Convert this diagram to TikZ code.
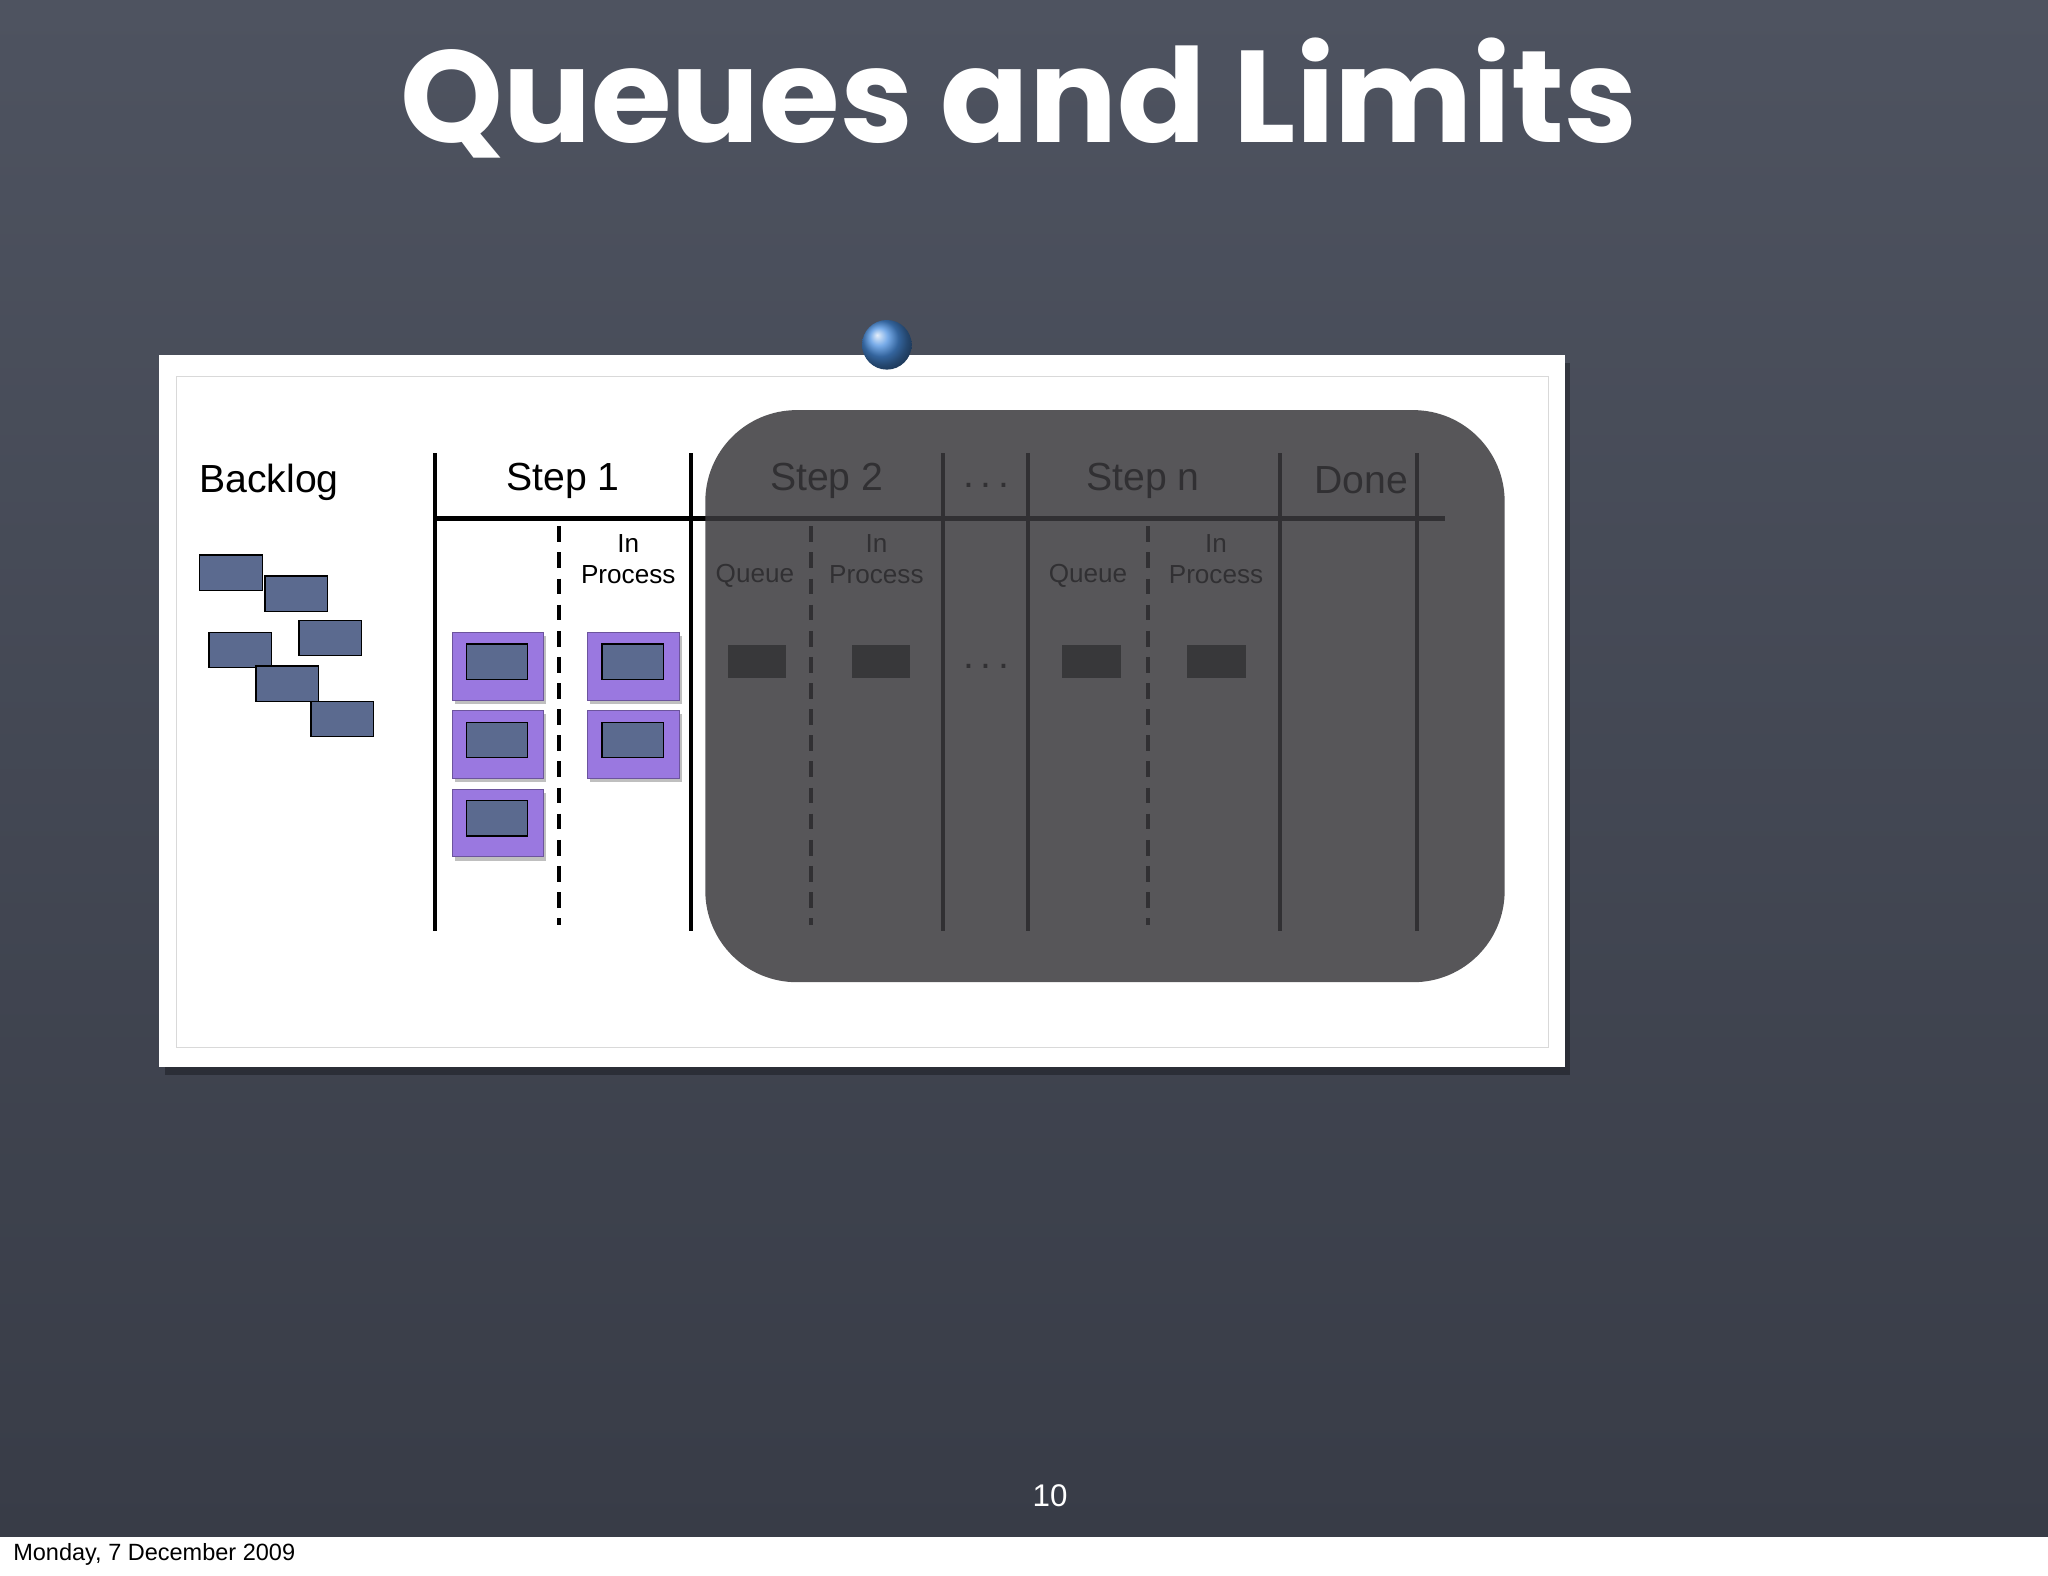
\documentclass[tikz,border=0pt]{standalone}
\usepackage{fontspec}
\setmainfont{Liberation Sans}
\newfontfamily\titlefont{Poppins}
\definecolor{bgtop}{HTML}{4E5360}
\definecolor{bgbot}{HTML}{383C47}
\definecolor{card}{HTML}{5B6A8F}
\definecolor{purp}{HTML}{9A78E0}
\definecolor{pin}{HTML}{4A8FE0}
\definecolor{over}{HTML}{3A393C}
\begin{document}
\begin{tikzpicture}[x=1pt,y=-1pt,
  solidline/.style={line width=3.5pt,black},
  dashline/.style={line width=3.5pt,black,dash pattern=on 12pt off 8pt},
  bcard/.style={draw=black,line width=1pt,fill=card},
  pcard/.style={fill=purp,draw=purp!70!black,line width=0.5pt},
  gcard/.style={fill=black!80},
  lbl/.style={font=\fontsize{30}{32}\selectfont,inner sep=0pt},
  sml/.style={font=\fontsize{20}{24}\selectfont,inner sep=0pt,align=center}]
\useasboundingbox (0,0) rectangle (1568,1206);
\shade[top color=bgtop, bottom color=bgbot] (0,0) rectangle (1568,1177);
\fill[white] (0,1177) rectangle (1568,1206);
\node[anchor=west,inner sep=0pt,font=\fontsize{18}{20}\selectfont] (date) at (10,1190) {Monday, 7 December 2009};
\node[white,inner sep=0pt,font=\titlefont\bfseries\fontsize{100}{100}\selectfont] (title) at (780,75) {Queues and Limits};
\node[white,inner sep=0pt,font=\fontsize{24}{26}\selectfont] (pg) at (804,1145) {10};
% board
\fill[black,opacity=0.3] (126,278) rectangle (1202,823);
\fill[white] (122,272) rectangle (1198,817);
\draw[black!15] (135,288) rectangle (1185,802);
\shade[ball color=pin] (679,264) circle (19);
% lines
\foreach \x in {333,529,722,787,980,1085} \draw[solidline] (\x,347) -- (\x,713);
\foreach \x in {428,621,879} \draw[dashline] (\x,403) -- (\x,708);
\draw[solidline] (333,397) -- (1106,397);
% texts
\node[lbl] (bl) at (206,369) {Backlog};
\node[lbl] (s1) at (431,368) {Step 1};
\node[lbl] (s2) at (633,368) {Step 2};
\node[lbl] (d1) at (755,372) {.\,.\,.};
\node[lbl] (sn) at (875,368) {Step n};
\node[lbl] (dn) at (1042,368) {Done};
\foreach \x/\n in {481/p1,671/p2,931/p3} \node[sml] (\n) at (\x,428) {In\\Process};
\foreach \x/\n in {578/q2,833/q3} \node[sml] (\n) at (\x,441) {Queue};
\node[lbl] (d2) at (755,510) {.\,.\,.};
% backlog cards
\foreach \a/\b in {153/425,203/441,229/475,160/484,196/510,238/537}
  \draw[bcard] (\a,\b) rectangle ++(48,27);
% purple cards
\foreach \a/\b in {346/484,346/544,346/604,450/484,450/544}{
  \fill[black,opacity=0.25] (\a+2,\b+3) rectangle ++(70,52);
  \fill[pcard] (\a,\b) rectangle ++(70,52);
  \draw[bcard] (\a+11,\b+9) rectangle ++(47,27);}
\foreach \a in {557,652,813,909} \fill[gcard] (\a,494) rectangle ++(45,25);
% overlay
\fill[over,opacity=0.85,rounded corners=70pt] (540,314) rectangle (1152,752);
\end{tikzpicture}
\end{document}
